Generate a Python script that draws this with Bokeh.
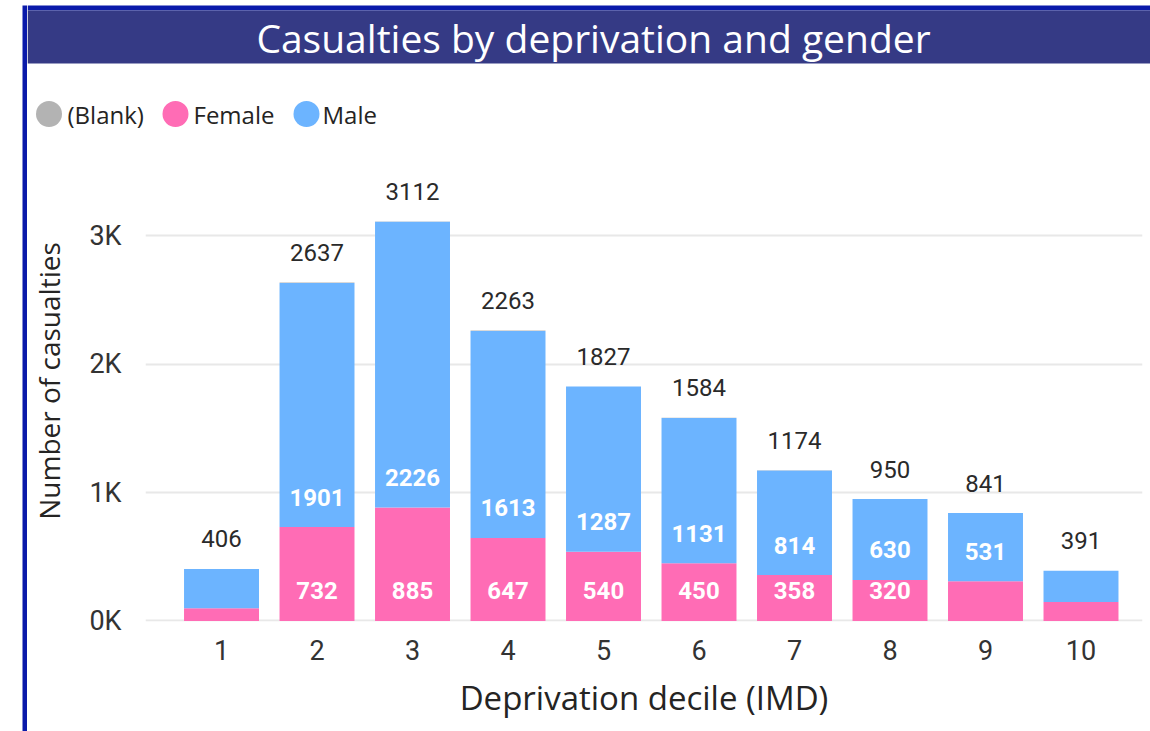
from bokeh.plotting import figure
from bokeh.layouts import row, column
from bokeh.models import ColumnDataSource, FixedTicker, Range1d
from bokeh.core.properties import value
from bokeh.embed import file_html
from bokeh.resources import INLINE

# ---- data ----
deciles = ["1", "2", "3", "4", "5", "6", "7", "8", "9", "10"]
x_pos = [1, 2, 3, 4, 5, 6, 7, 8, 9, 10]
female = [100, 732, 885, 647, 540, 450, 358, 320, 310, 148]
male = [306, 1901, 2226, 1613, 1287, 1131, 814, 630, 531, 243]
blank = [0, 4, 1, 3, 0, 3, 2, 0, 0, 0]
totals = [406, 2637, 3112, 2263, 1827, 1584, 1174, 950, 841, 391]
male_labels = ["", "1901", "2226", "1613", "1287", "1131", "814", "630", "531", ""]
female_labels = ["", "732", "885", "647", "540", "450", "358", "320", "", ""]
y_ticks = [0, 1000, 2000, 3000]
y_tick_labels = ["0K", "1K", "2K", "3K"]
series_names = ["(Blank)", "Female", "Male"]
title_text = "Casualties by deprivation and gender"

C_BLANK = "#B3B3B3"
C_FEMALE = "#FF6CB5"
C_MALE = "#6CB4FF"
C_TITLEBAR = "#353A85"
C_BORDER = "#0A1AAA"

TOTAL_W, TOTAL_H = 1150, 731
STRIP_W = 27
INNER_W = TOTAL_W - STRIP_W
TOP_H = 140
BOT_H = 3
MAIN_H = TOTAL_H - TOP_H - BOT_H


def blank_fig(w, h):
    f = figure(width=w, height=h, x_range=Range1d(0, w), y_range=Range1d(h, 0),
               x_axis_type=None, y_axis_type=None, output_backend="svg",
               toolbar_location=None, min_border=0)
    f.grid.visible = False
    f.outline_line_color = None
    f.background_fill_color = "white"
    f.border_fill_color = "white"
    f.frame_align = False
    return f


# ---- left border strip ----
strip = blank_fig(STRIP_W, TOTAL_H)
strip.quad(left=22, right=27, top=5, bottom=TOTAL_H, fill_color=C_BORDER,
           line_color=None)

# ---- top: title bar + legend ----
top = blank_fig(INNER_W, TOP_H)
top.quad(left=0, right=INNER_W, top=5, bottom=10, fill_color=C_BORDER,
         line_color=None)
top.quad(left=0, right=INNER_W, top=10, bottom=63, fill_color=C_TITLEBAR,
         line_color=None)
top.text(x=[566], y=[37], text=[title_text], text_align="center",
         text_baseline="middle", text_color="white",
         text_font=value("Open Sans"), text_font_size="39px")
leg_src = ColumnDataSource(dict(
    cx=[21.5, 148, 279], tx=[40, 166, 295], y=[113.5, 113.5, 113.5],
    name=series_names, color=[C_BLANK, C_FEMALE, C_MALE]))
top.scatter(x="cx", y="y", marker="circle", size=26, fill_color="color",
            line_color=None, source=leg_src)
top.text(x="tx", y="y", text="name", text_align="left", text_baseline="middle",
         text_color="#252423", text_font=value("Open Sans"),
         text_font_size="24px", source=leg_src)

# ---- main chart ----
src = ColumnDataSource(dict(
    x=x_pos, female=female, male=male, blank=blank, totals=totals,
    total_txt=[str(t) for t in totals], male_txt=male_labels,
    female_txt=female_labels, zero=[0] * len(x_pos),
))

p = figure(width=INNER_W, height=MAIN_H, x_range=Range1d(0.204, 10.644),
           y_range=Range1d(-4, 3744), output_backend="svg",
           toolbar_location=None, min_border_left=118, min_border_right=8,
           min_border_top=0, min_border_bottom=MAIN_H - 481)
p.outline_line_color = None
p.background_fill_color = "white"
p.border_fill_color = "white"
p.frame_align = False

p.vbar_stack(["female", "male", "blank"], x="x", width=0.785, source=src,
             fill_color=[C_FEMALE, C_MALE, C_BLANK], line_color=None)

num_font = value("Roboto")
p.text(x="x", y="totals", text="total_txt", source=src, text_align="center",
       text_baseline="middle", y_offset=-30, text_font=num_font,
       text_font_size="24px", text_color="#2A2A2A")
p.text(x="x", y="female", text="male_txt", source=src, text_align="center",
       text_baseline="middle", y_offset=-30, text_font=num_font,
       text_font_size="24px", text_color="white", text_font_style="bold")
p.text(x="x", y="zero", text="female_txt", source=src, text_align="center",
       text_baseline="middle", y_offset=-30, text_font=num_font,
       text_font_size="24px", text_color="white", text_font_style="bold")

p.xaxis.ticker = FixedTicker(ticks=x_pos)
p.xaxis.major_label_overrides = {x: d for x, d in zip(x_pos, deciles)}
p.yaxis.ticker = FixedTicker(ticks=y_ticks)
p.yaxis.major_label_overrides = {t: l for t, l in zip(y_ticks, y_tick_labels)}
for ax in (p.xaxis, p.yaxis):
    ax.axis_line_color = None
    ax.major_tick_line_color = None
    ax.minor_tick_line_color = None
    ax.major_label_text_font = "Roboto"
    ax.major_label_text_font_size = "27px"
    ax.major_label_text_color = "#333333"
    ax.axis_label_text_font = "Open Sans"
    ax.axis_label_text_font_style = "normal"
    ax.axis_label_text_color = "#252423"
p.yaxis.major_label_standoff = 18
p.xaxis.major_label_standoff = 12
p.xaxis.axis_label = "Deprivation decile (IMD)"
p.yaxis.axis_label = "Number of casualties"
p.xaxis.axis_label_text_font_size = "33px"
p.yaxis.axis_label_text_font_size = "28px"
p.xaxis.axis_label_standoff = 12
p.yaxis.axis_label_standoff = 18

p.xgrid.grid_line_color = None
p.ygrid.grid_line_color = "#E8E8E8"
p.ygrid.grid_line_width = 2

# ---- bottom border ----
bot = blank_fig(INNER_W, BOT_H)
bot.quad(left=0, right=INNER_W, top=0, bottom=BOT_H, fill_color=C_BORDER,
         line_color=None)

layout = row(strip, column(top, p, bot, spacing=0), spacing=0)
open("out.html", "w").write(file_html(layout, INLINE))
